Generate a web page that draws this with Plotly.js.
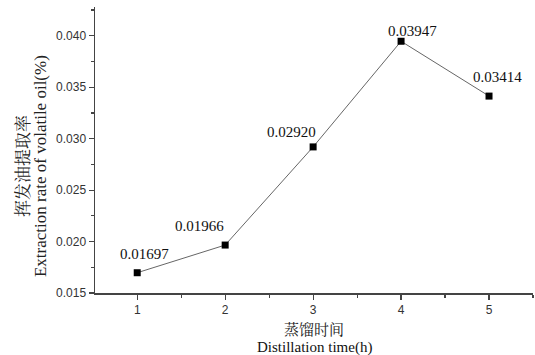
<!DOCTYPE html>
<html>
<head>
<meta charset="utf-8">
<script src="https://cdn.plot.ly/plotly-3.0.1.min.js"></script>
<style>html,body{margin:0;padding:0;background:#fff;}#chart{width:535px;height:355px;}</style>
</head>
<body>
<div id="chart"></div>
<script>
var times = [1, 2, 3, 4, 5];
var rates = [0.01697, 0.01966, 0.02920, 0.03947, 0.03414];
var labels = ["0.01697", "0.01966", "0.02920", "0.03947", "0.03414"];
var yTicks = [0.015, 0.020, 0.025, 0.030, 0.035, 0.040];
var yTickText = ["0.015", "0.020", "0.025", "0.030", "0.035", "0.040"];
var xTicks = [1, 2, 3, 4, 5];

var labelShiftX = [7, -26, -22, 11, 8];
var labelShiftY = [19, 19, 15, 10, 19];

var serif = "Liberation Serif, Times New Roman, Noto Sans CJK SC, serif";
var sans = "Liberation Sans, Arial, sans-serif";

var annotations = times.map(function (t, i) {
  return {
    x: t, y: rates[i], xref: 'x', yref: 'y',
    text: labels[i], showarrow: false,
    xanchor: 'center', yanchor: 'middle',
    xshift: labelShiftX[i], yshift: labelShiftY[i],
    font: {family: serif, size: 15, color: '#111'}
  };
});
annotations.push(
  {xref: 'paper', yref: 'paper', x: 0, y: 0.444, xshift: -74, textangle: -90,
   text: '挥发油提取率', showarrow: false, xanchor: 'center', yanchor: 'middle',
   font: {family: "Noto Serif CJK SC, Noto Sans CJK SC, serif", size: 17, color: '#222'}},
  {xref: 'paper', yref: 'paper', x: 0, y: 0.444, xshift: -55, textangle: -90,
   text: 'Extraction rate of volatile oil(%)', showarrow: false, xanchor: 'center', yanchor: 'middle',
   font: {family: serif, size: 17, color: '#222'}},
  {xref: 'paper', yref: 'paper', x: 0.5, y: 0, yshift: -35,
   text: '蒸馏时间', showarrow: false, xanchor: 'center', yanchor: 'middle',
   font: {family: "Noto Serif CJK SC, Noto Sans CJK SC, serif", size: 15, color: '#222'}},
  {xref: 'paper', yref: 'paper', x: 0.5, y: 0, yshift: -54,
   text: 'Distillation time(h)', showarrow: false, xanchor: 'center', yanchor: 'middle',
   font: {family: serif, size: 15, color: '#111'}}
);

var trace = {
  x: times, y: rates, type: 'scatter', mode: 'lines+markers',
  line: {color: '#666', width: 1},
  marker: {symbol: 'square', size: 7, color: '#000'},
  hoverinfo: 'skip'
};

var layout = {
  width: 535, height: 355,
  margin: {l: 95, r: 2, t: 7, b: 62, pad: 0},
  paper_bgcolor: '#fff', plot_bgcolor: '#fff',
  showlegend: false,
  xaxis: {
    range: [0.52, 5.5], tickvals: xTicks, ticktext: xTicks.map(String),
    showgrid: false, zeroline: false, showline: true, linecolor: '#444', linewidth: 1.5,
    ticks: 'outside', ticklen: 5, tickwidth: 1.2, tickcolor: '#444',
    tickfont: {family: sans, size: 12, color: '#333'},
    minor: {dtick: 0.5, tick0: 0.5, ticks: 'outside', ticklen: 3, tickcolor: '#444', showgrid: false}
  },
  yaxis: {
    range: [0.015, 0.0428], tickvals: yTicks, ticktext: yTickText,
    showgrid: false, zeroline: false, showline: true, linecolor: '#444', linewidth: 1.5,
    ticks: 'outside', ticklen: 5, tickwidth: 1.2, tickcolor: '#444',
    tickfont: {family: sans, size: 12, color: '#333'},
    minor: {dtick: 0.0025, tick0: 0.015, ticks: 'outside', ticklen: 3, tickcolor: '#444', showgrid: false}
  },
  annotations: annotations
};

Plotly.newPlot('chart', [trace], layout, {displayModeBar: false, staticPlot: true});
</script>
</body>
</html>
